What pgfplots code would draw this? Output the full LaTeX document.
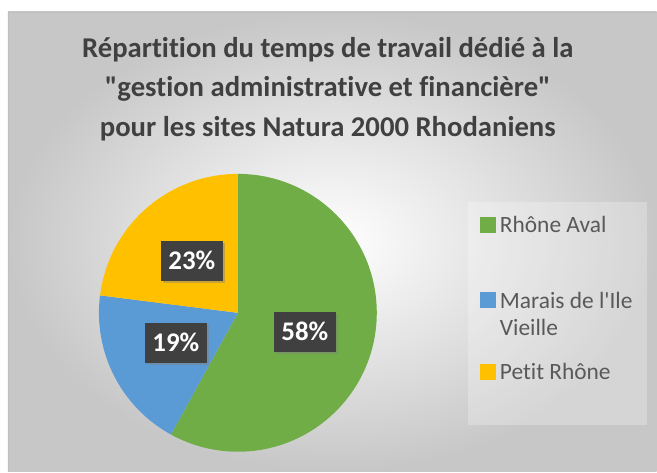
\documentclass[border=0pt]{standalone}
\usepackage{pgfplots}
\pgfplotsset{compat=1.18}
\usepackage{fontspec}
\setmainfont{Carlito}[Ligatures={TeXOff,NoCommon}]
\usetikzlibrary{shadows}
\definecolor{cgreen}{HTML}{70AD47}
\definecolor{cblue}{HTML}{5B9BD5}
\definecolor{cyellow}{HTML}{FFC000}
\definecolor{ctitle}{HTML}{404040}
\definecolor{clegend}{HTML}{595959}
\definecolor{cbox}{HTML}{404040}
\begin{document}
\begin{tikzpicture}[x=1bp,y=1bp]
\fill[white] (0,0) rectangle (657,472);
\shade[inner color=white, outer color=black!22] (8,0) rectangle (657,460);
\draw[black!25, line width=0.8bp] (8,0) -- (8,460) -- (657,460);
\begin{axis}[at={(0,0)}, anchor=south west, x=1bp, y=1bp,
  xmin=0, xmax=657, ymin=0, ymax=472, hide axis, clip=false]
% legend box
\fill[white, opacity=0.25] (axis cs:468,47) rectangle (axis cs:647,270);
% pie: Rhône Aval 58, Marais de l'Ile Vieille 19, Petit Rhône 23
\fill[cgreen] (axis cs:238,159) -- ++(90:139bp) arc[start angle=90, delta angle=-3.6*58, radius=139bp] -- cycle;
\fill[cblue] (axis cs:238,159) -- ++(90-3.6*58:139bp) arc[start angle=90-3.6*58, delta angle=-3.6*19, radius=139bp] -- cycle;
\fill[cyellow] (axis cs:238,159) -- ++(90-3.6*77:139bp) arc[start angle=90-3.6*77, delta angle=-3.6*23, radius=139bp] -- cycle;
% data labels
\tikzset{lbl/.style={fill=cbox, text=white, font=\fontsize{27}{30}\selectfont\bfseries,
  minimum width=62bp, minimum height=40bp, inner sep=0pt,
  drop shadow={opacity=0.45, shadow xshift=2.5bp, shadow yshift=-2.5bp}}}
\node[lbl] at (axis cs:305,140) {58\%};
\node[lbl] at (axis cs:176,129) {19\%};
\node[lbl] at (axis cs:192,211) {23\%};
% title
\node[text=ctitle, align=center, font=\fontsize{28.8}{39.5}\selectfont\bfseries] at (axis cs:328,383)
  {Répartition du temps de travail dédié à la\\"gestion administrative et financière"\\pour les sites Natura 2000 Rhodaniens};
% legend
\fill[cgreen] (axis cs:480,239) rectangle (axis cs:496,255);
\fill[cblue] (axis cs:480,164) rectangle (axis cs:496,180);
\fill[cyellow] (axis cs:480,92) rectangle (axis cs:496,108);
\tikzset{leg/.style={text=clegend, anchor=west, inner sep=0pt, font=\fontsize{23.5}{27}\selectfont, align=left}}
\node[leg] at (axis cs:500,247) {Rhône Aval};
\node[leg] at (axis cs:500,158) {Marais de l'Ile\\Vieille};
\node[leg] at (axis cs:500,100) {Petit Rhône};
\end{axis}
\end{tikzpicture}
\end{document}
